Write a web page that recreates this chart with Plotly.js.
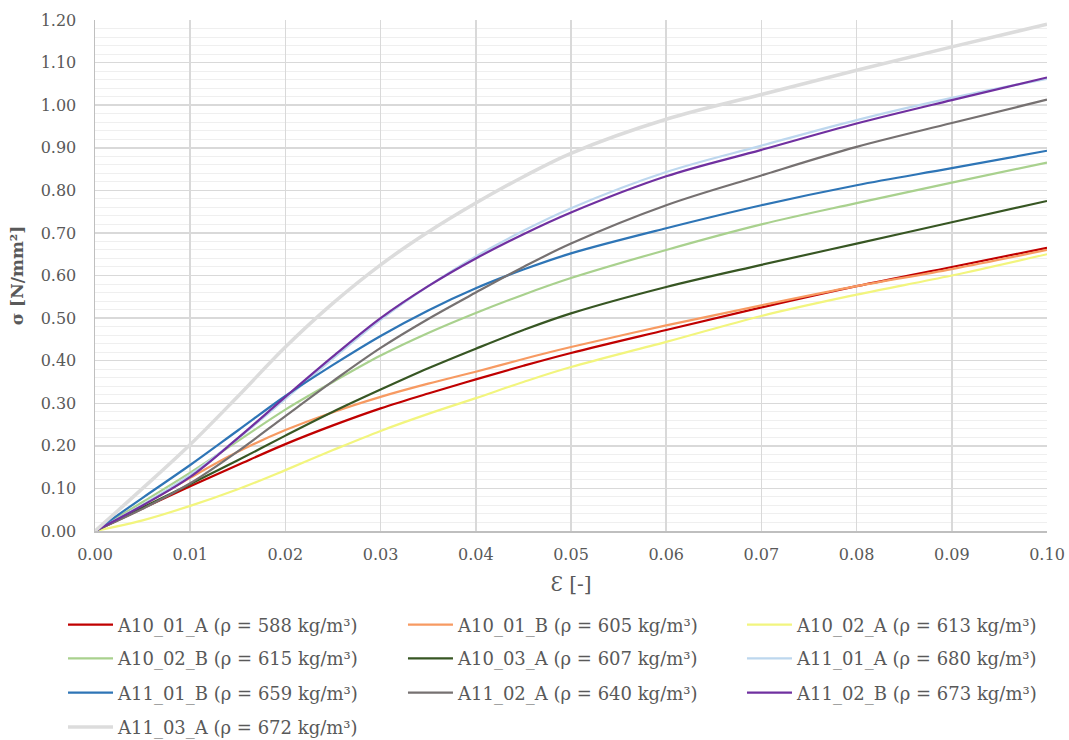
<!DOCTYPE html>
<html>
<head>
<meta charset="utf-8">
<script src="https://cdn.plot.ly/plotly-3.0.1.min.js"></script>
<style>html,body{margin:0;padding:0;background:#fff;}#chart{width:1069px;height:740px;}</style>
</head>
<body>
<div id="chart"></div>
<script>
const strain = [0, 0.005, 0.01, 0.015, 0.02, 0.025, 0.03, 0.035, 0.04, 0.045, 0.05, 0.06, 0.07, 0.08, 0.09, 0.10];

const names = [
  "A10_01_A (ρ = 588 kg/m³)",
  "A10_01_B (ρ = 605 kg/m³)",
  "A10_02_A (ρ = 613 kg/m³)",
  "A10_02_B (ρ = 615 kg/m³)",
  "A10_03_A (ρ = 607 kg/m³)",
  "A11_01_A (ρ = 680 kg/m³)",
  "A11_01_B (ρ = 659 kg/m³)",
  "A11_02_A (ρ = 640 kg/m³)",
  "A11_02_B (ρ = 673 kg/m³)",
  "A11_03_A (ρ = 672 kg/m³)"
];

const A10_01_A = [0, 0.053, 0.105, 0.155, 0.204, 0.248, 0.288, 0.323, 0.356, 0.388, 0.418, 0.472, 0.525, 0.575, 0.620, 0.665];
const A10_01_B = [0, 0.060, 0.125, 0.186, 0.237, 0.279, 0.315, 0.346, 0.374, 0.404, 0.432, 0.483, 0.530, 0.575, 0.615, 0.660];
const A10_02_A = [0, 0.025, 0.059, 0.098, 0.143, 0.190, 0.235, 0.275, 0.312, 0.350, 0.385, 0.444, 0.505, 0.555, 0.600, 0.650];
const A10_02_B = [0, 0.068, 0.137, 0.211, 0.285, 0.350, 0.412, 0.465, 0.512, 0.555, 0.594, 0.660, 0.720, 0.770, 0.818, 0.865];
const A10_03_A = [0, 0.055, 0.110, 0.166, 0.224, 0.280, 0.332, 0.382, 0.428, 0.472, 0.511, 0.573, 0.625, 0.675, 0.725, 0.775];
const A11_01_A = [0, 0.062, 0.132, 0.217, 0.310, 0.405, 0.496, 0.575, 0.645, 0.705, 0.758, 0.843, 0.905, 0.965, 1.017, 1.062];
const A11_01_B = [0, 0.078, 0.155, 0.236, 0.317, 0.390, 0.458, 0.518, 0.570, 0.614, 0.652, 0.711, 0.765, 0.812, 0.852, 0.893];
const A11_02_A = [0, 0.052, 0.112, 0.187, 0.270, 0.352, 0.430, 0.498, 0.560, 0.620, 0.675, 0.765, 0.835, 0.902, 0.958, 1.013];
const A11_02_B = [0, 0.060, 0.127, 0.218, 0.315, 0.410, 0.500, 0.575, 0.640, 0.697, 0.748, 0.833, 0.895, 0.957, 1.012, 1.065];
const A11_03_A = [0, 0.100, 0.203, 0.316, 0.432, 0.535, 0.625, 0.702, 0.770, 0.832, 0.887, 0.967, 1.025, 1.082, 1.137, 1.190];

const series = [A10_01_A, A10_01_B, A10_02_A, A10_02_B, A10_03_A, A11_01_A, A11_01_B, A11_02_A, A11_02_B, A11_03_A];
const colors = ["#c00000", "#f79a62", "#f2f57e", "#a9d18e", "#375623", "#bdd7ee", "#2e75b6", "#767171", "#7030a0", "#dcdcdc"];
const widths = [2.2, 2.2, 2.2, 2.2, 2.2, 2.2, 2.2, 2.2, 2.2, 3.5];

const yTickVals = [0,0.1,0.2,0.3,0.4,0.5,0.6,0.7,0.8,0.9,1.0,1.1,1.2];
const xTickVals = [0,0.01,0.02,0.03,0.04,0.05,0.06,0.07,0.08,0.09,0.10];

const legendIds = series.map((s, i) => i === 0 ? "legend" : "legend" + (i + 1));

const traces = series.map((ys, i) => ({
  x: strain, y: ys, name: names[i], type: "scatter", mode: "lines",
  legend: legendIds[i],
  line: {color: colors[i], width: widths[i], shape: "spline", smoothing: 1}
}));

const SERIF = "DejaVu Serif";
const tickFont = {family: SERIF, color: "#595959", size: 16};
const legFont = {family: SERIF, color: "#595959", size: 18};

const colX = [-0.0336, 0.3235, 0.6796];
const rowY = [-0.184, -0.250, -0.317, -0.384];

const layout = {
  width: 1069, height: 740,
  margin: {l: 95, r: 22, t: 20, b: 209, autoexpand: false},
  paper_bgcolor: "#ffffff", plot_bgcolor: "#ffffff",
  font: {family: SERIF, color: "#595959", size: 16},
  showlegend: true,
  xaxis: {
    range: [0, 0.10], tickvals: xTickVals, ticktext: xTickVals.map(v => v.toFixed(2)),
    showgrid: true, gridcolor: "#d9d9d9", gridwidth: 1.5,
    zeroline: false, showline: true, linecolor: "#bfbfbf", linewidth: 1.5,
    ticks: "outside", ticklen: 8, tickcolor: "rgba(0,0,0,0)", tickfont: tickFont,
    title: {text: "Ɛ [-]", font: {family: SERIF, size: 20, color: "#595959"}, standoff: 14}
  },
  yaxis: {
    range: [0, 1.2], tickvals: yTickVals, ticktext: yTickVals.map(v => v.toFixed(2)),
    showgrid: true, gridcolor: "#d9d9d9", gridwidth: 1.5,
    minor: {dtick: 0.02, showgrid: true, gridcolor: "#efefef", gridwidth: 1, ticks: ""},
    zeroline: false, showline: true, linecolor: "#bfbfbf", linewidth: 1.5,
    ticks: "outside", ticklen: 14, tickcolor: "rgba(0,0,0,0)", tickfont: tickFont,
    title: {text: "<b>σ [N/mm²]</b>", font: {family: SERIF, size: 17, color: "#595959"}, standoff: 12}
  }
};

legendIds.forEach((id, i) => {
  layout[id] = {
    orientation: "h", x: colX[i % 3], xanchor: "left", y: rowY[Math.floor(i / 3)], yanchor: "middle",
    font: legFont, itemwidth: 45, bgcolor: "rgba(0,0,0,0)"
  };
});

Plotly.newPlot("chart", traces, layout, {displayModeBar: false, staticPlot: true});
</script>
</body>
</html>
